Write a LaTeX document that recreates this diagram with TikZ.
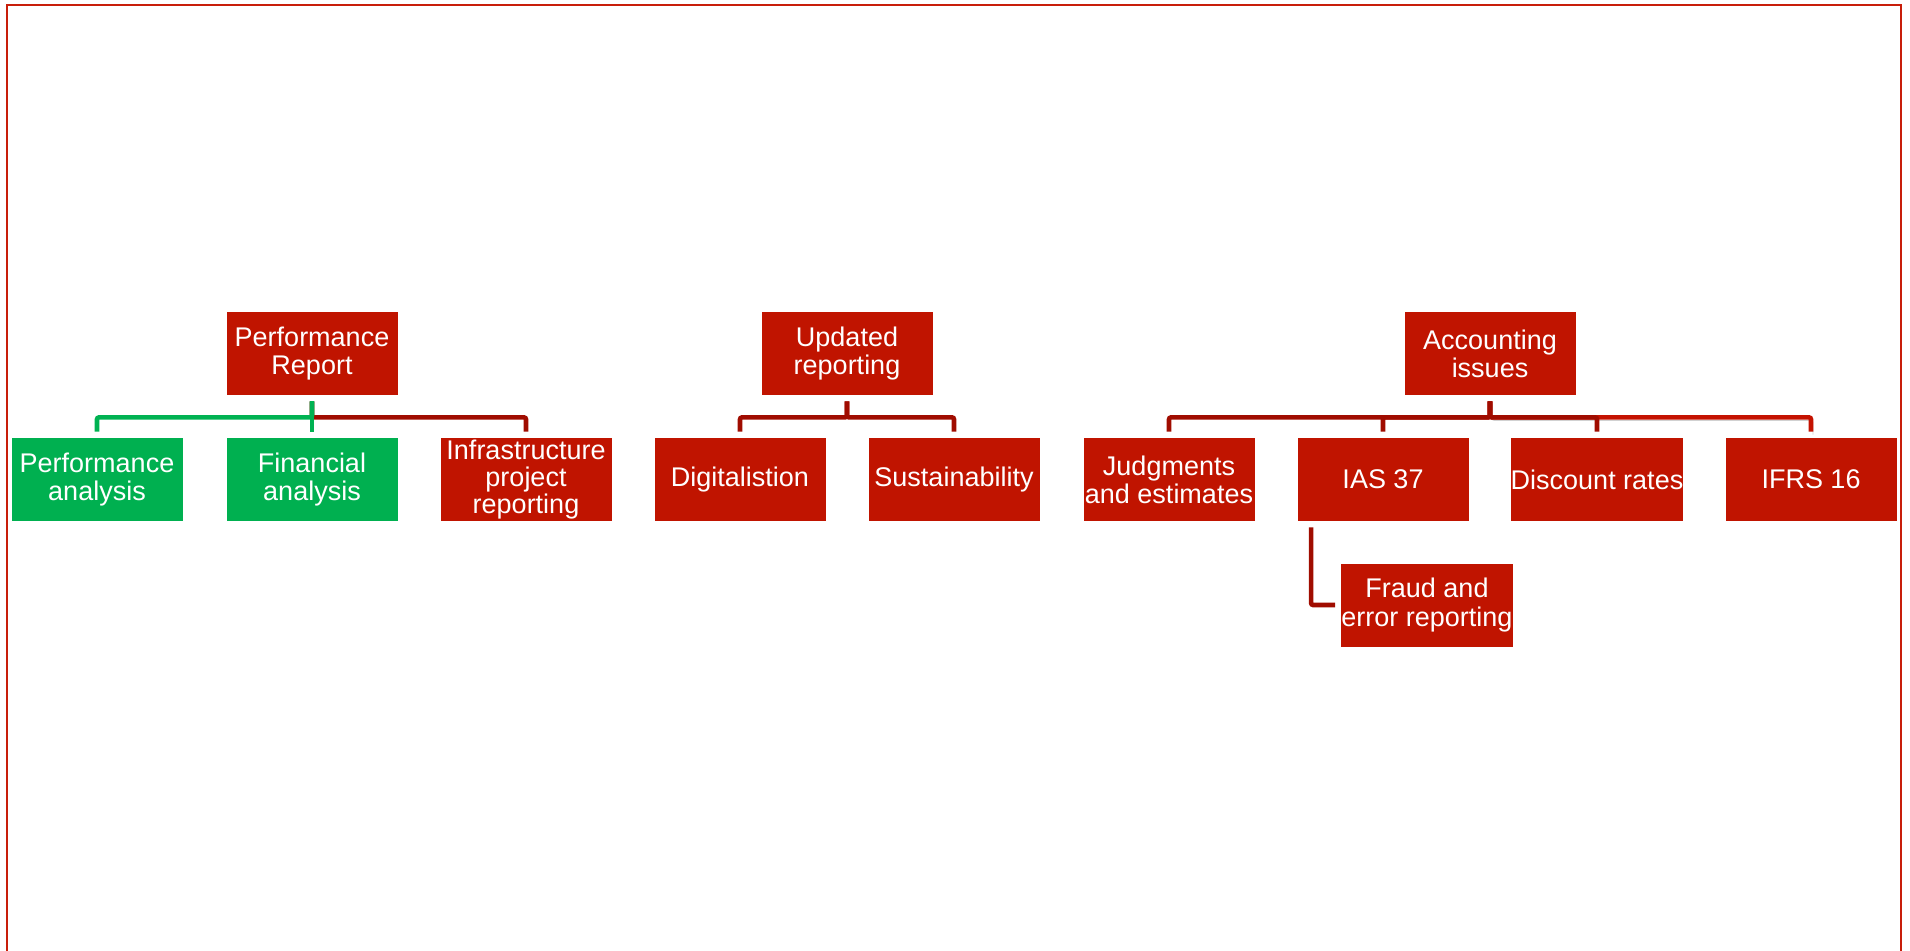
\documentclass[tikz,border=0pt]{standalone}
\usepackage{fontspec}
\setmainfont{Liberation Sans}
\usepackage{xcolor}
\usepackage{tikz}
\usetikzlibrary{
  positioning,
  calc
}

\definecolor{boxred}{RGB}{192,20,0}
\definecolor{boxgreen}{RGB}{0,176,80}
\definecolor{linered}{RGB}{160,12,0}
\definecolor{linebright}{RGB}{196,18,0}
\definecolor{linegreen}{RGB}{0,178,82}
\definecolor{framered}{RGB}{200,30,10}

\tikzset{
  item/.style={fill=boxred,text=white,inner sep=0pt,minimum width=85.5pt,
    minimum height=41.5pt,align=center,font=\fontsize{13.5}{14}\selectfont},
  itemg/.style={item,fill=boxgreen},
  link/.style={draw=linered,line width=2.3pt,rounded corners=1pt,
    shorten <=3pt,shorten >=3pt},
  linkg/.style={link,draw=linegreen},
  linkb/.style={link,draw=linebright,
    preaction={draw=black!40,opacity=0.45,transform canvas={shift={(1pt,-1.5pt)}}}}
}

\begin{document}
\begin{tikzpicture}[x=0.5pt,y=-0.5pt]
  \useasboundingbox (0,0) rectangle (1910,950);
  % 枠
  \draw[framered,line width=1.2pt] (7,960)--(7,5)--(1901,5)--(1901,960);
  % 親
  \node[item] (pr) at (312,353.5) {Performance\\Report};
  \node[item] (ur) at (847,353.5) {Updated\\reporting};
  \node[item] (ai) at (1490,353.5) {Accounting\\issues};
  % 子
  \node[itemg] (pa) at (97,479.5) {Performance\\analysis};
  \node[itemg] (fa) at (312,479.5) {Financial\\analysis};
  \node[item,font=\fontsize{13.5}{13.5}\selectfont] (ip) at (526,479.5) {Infrastructure\\project\\reporting};
  \node[item] (dg) at (740,479.5) {Digitalistion};
  \node[item] (su) at (954,479.5) {Sustainability};
  \node[item] (je) at (1169,479.5) {Judgments\\and estimates};
  \node[item] (ias) at (1383,479.5) {IAS 37};
  \node[item] (dr) at (1597,479.5) {Discount rates};
  \node[item] (ifrs) at (1811,479.5) {IFRS 16};
  \node[item] (fr) at (1427,605) {Fraud and\\error reporting};
  % 線
  \draw[link] (pr.south) -- ++(0,22) -| (ip.north);
  \draw[linkg] (pr.south) -- ++(0,22) -| (pa.north);
  \draw[linkg] (pr.south) -- ++(0,22) -| (fa.north);
  \draw[link] (ur.south) -- ++(0,22) -| (dg.north);
  \draw[link] (ur.south) -- ++(0,22) -| (su.north);
  \draw[linkb] (ai.south) -- ++(0,22) -| (ifrs.north);
  \draw[link] (ai.south) -- ++(0,22) -| (dr.north);
  \draw[link] (ai.south) -- ++(0,22) -| (ias.north);
  \draw[link] (ai.south) -- ++(0,22) -| (je.north);
  \draw[link] ([xshift=7pt]ias.south west) |- (fr.west);
\end{tikzpicture}
\end{document}
